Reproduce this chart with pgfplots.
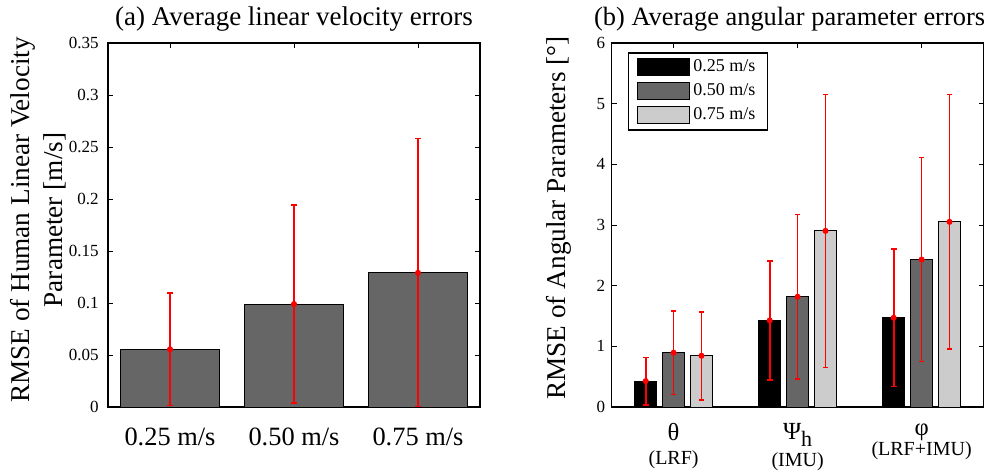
\documentclass[border=0pt]{standalone}
\usepackage{fontspec}
\setmainfont{Liberation Serif}
\usepackage{pgfplots}
\pgfplotsset{compat=1.18}
\usepackage{pgfplotstable}

\definecolor{bardark}{gray}{0.4}
\definecolor{barlight}{gray}{0.8}
\definecolor{errred}{rgb}{1,0,0}

% left panel: speed, mean RMSE
\pgfplotstableread{
x y
1 0.0555
2 0.0990
3 0.1290
}\velo

% right panel: bar positions, mean RMSE
\pgfplotstableread{
x y
0.775 0.428
1.775 1.427
2.775 1.471
}\angA
\pgfplotstableread{
x y
1 0.895
2 1.817
3 2.431
}\angB
\pgfplotstableread{
x y
1.225 0.845
2.225 2.903
3.225 3.052
}\angC

\pgfplotsset{
  myaxis/.style={
    scale only axis, width=186pt, height=182pt,
    xmin=0.5, xmax=3.5, ymin=0,
    axis line style={line width=0.6pt},
    tick style={black, line width=0.5pt},
    major tick length=2.5pt, tick align=inside,
    xtick={1,2,3}, xtick pos=both, ytick pos=both,
    title style={anchor=base, font=\fontsize{13.5}{15}\selectfont},
    ylabel style={font=\fontsize{13.6}{16.5}\selectfont, align=center, inner sep=0pt},
    unbounded coords=jump,
  },
  errline/.style={forget plot, color=errred, line width=0.85pt, mark=-, mark size=1.4pt,
    mark options={solid, color=errred, line width=0.8pt}},
  meandot/.style={forget plot, only marks, color=errred, mark=*, mark size=1.3pt,
    mark options={draw=errred, fill=errred}},
  boxlegend/.style={legend image code/.code={\draw[##1, line width=0.5pt] (0pt,-4.3pt) rectangle (26pt,4.3pt);}},
}

\begin{document}
\begin{tikzpicture}
\begin{axis}[myaxis, at={(0pt,0pt)}, anchor=south west,
  ymax=0.35,
  ytick={0,0.05,0.1,0.15,0.2,0.25,0.3,0.35},
  yticklabels={0,0.05,0.1,0.15,0.2,0.25,0.3,0.35},
  yticklabel style={font=\fontsize{8.5}{10}\selectfont, inner sep=0pt, xshift=-4.5pt},
  xticklabels={0.25 m/s,0.50 m/s,0.75 m/s},
  xticklabel style={font=\fontsize{13.2}{15}\selectfont, anchor=base, inner sep=0pt, yshift=-19pt},
  title={(a) Average linear velocity errors},
  title style={at={([yshift=3pt]axis description cs:0.5,1)}},
  ylabel={RMSE of Human Linear Velocity\\Parameter [m/s]},
  ylabel style={at={([xshift=-20.5pt,yshift=2.5pt]axis description cs:0,0.5)}, anchor=south},
]
\addplot[ybar, bar width=0.8, bar shift=0pt, fill=bardark, draw=black, line width=0.5pt]
  table[x=x,y=y]{\velo};
% error bars: (x, mean-std) -- (x, mean+std)
\addplot[errline] coordinates {
  (1,0.0015) (1,0.1095) (1,nan)
  (2,0.0040) (2,0.1940) (2,nan)
  (3,0.0005) (3,0.2580)};
\addplot[meandot] table[x=x,y=y]{\velo};
\end{axis}

\begin{axis}[myaxis, at={(251.8pt,0pt)}, anchor=south west,
  ymax=6,
  ytick={0,1,2,3,4,5,6},
  yticklabels={0,1,2,3,4,5,6},
  yticklabel style={font=\fontsize{8.5}{10}\selectfont, inner sep=0pt, xshift=-3pt},
  xticklabels={{θ\\[-1pt]{\fontsize{10}{12}\selectfont (LRF)}},
               {Ψ\raisebox{-0.6ex}{\fontsize{11}{12}\selectfont h}\\[0.5pt]{\fontsize{10}{12}\selectfont (IMU)}},
               {φ\\[-3pt]{\fontsize{10}{12}\selectfont (LRF+IMU)}}},
  xticklabel style={font=\fontsize{12.3}{13}\selectfont, align=center, anchor=north, inner sep=0pt, yshift=-8pt},
  title={(b) Average angular parameter errors},
  title style={at={([xshift=-4pt,yshift=3pt]axis description cs:0.5,1)}, font=\fontsize{13.2}{15}\selectfont},
  ylabel={RMSE of Angular Parameters [°]},
  ylabel style={at={([xshift=-19.8pt,yshift=3.5pt]axis description cs:0,0.5)}, anchor=south},
  legend style={at={([xshift=8pt,yshift=-4.5pt]axis description cs:0,1)}, anchor=north west,
    draw=black, line width=0.8pt, font=\fontsize{9}{10.5}\selectfont,
    inner xsep=4.5pt, inner ysep=2pt, row sep=1.5pt,
    nodes={inner sep=1.5pt}},
  legend cell align=left,
]
\addplot[ybar, bar width=0.18, bar shift=0pt, fill=black, draw=black, line width=0.5pt, boxlegend]
  table[x=x,y=y]{\angA};
\addlegendentry{0.25 m/s}
\addplot[ybar, bar width=0.18, bar shift=0pt, fill=bardark, draw=black, line width=0.5pt, boxlegend]
  table[x=x,y=y]{\angB};
\addlegendentry{0.50 m/s}
\addplot[ybar, bar width=0.18, bar shift=0pt, fill=barlight, draw=black, line width=0.5pt, boxlegend]
  table[x=x,y=y]{\angC};
\addlegendentry{0.75 m/s}
% error bars: (x, mean-std) -- (x, mean+std)
\addplot[errline] coordinates {
  (0.775,0.038) (0.775,0.818) (0.775,nan)
  (1.775,0.447) (1.775,2.407) (1.775,nan)
  (2.775,0.336) (2.775,2.606)};
\addplot[errline] coordinates {
  (1,0.205) (1,1.585) (1,nan)
  (2,0.462) (2,3.172) (2,nan)
  (3,0.751) (3,4.111)};
\addplot[errline] coordinates {
  (1.225,0.120) (1.225,1.570) (1.225,nan)
  (2.225,0.653) (2.225,5.153) (2.225,nan)
  (3.225,0.952) (3.225,5.152)};
\addplot[meandot] table[x=x,y=y]{\angA};
\addplot[meandot] table[x=x,y=y]{\angB};
\addplot[meandot] table[x=x,y=y]{\angC};
\end{axis}
\pgfresetboundingbox
\path (-54pt,-32.5pt) rectangle (443pt,203.5pt);
\end{tikzpicture}
\end{document}
